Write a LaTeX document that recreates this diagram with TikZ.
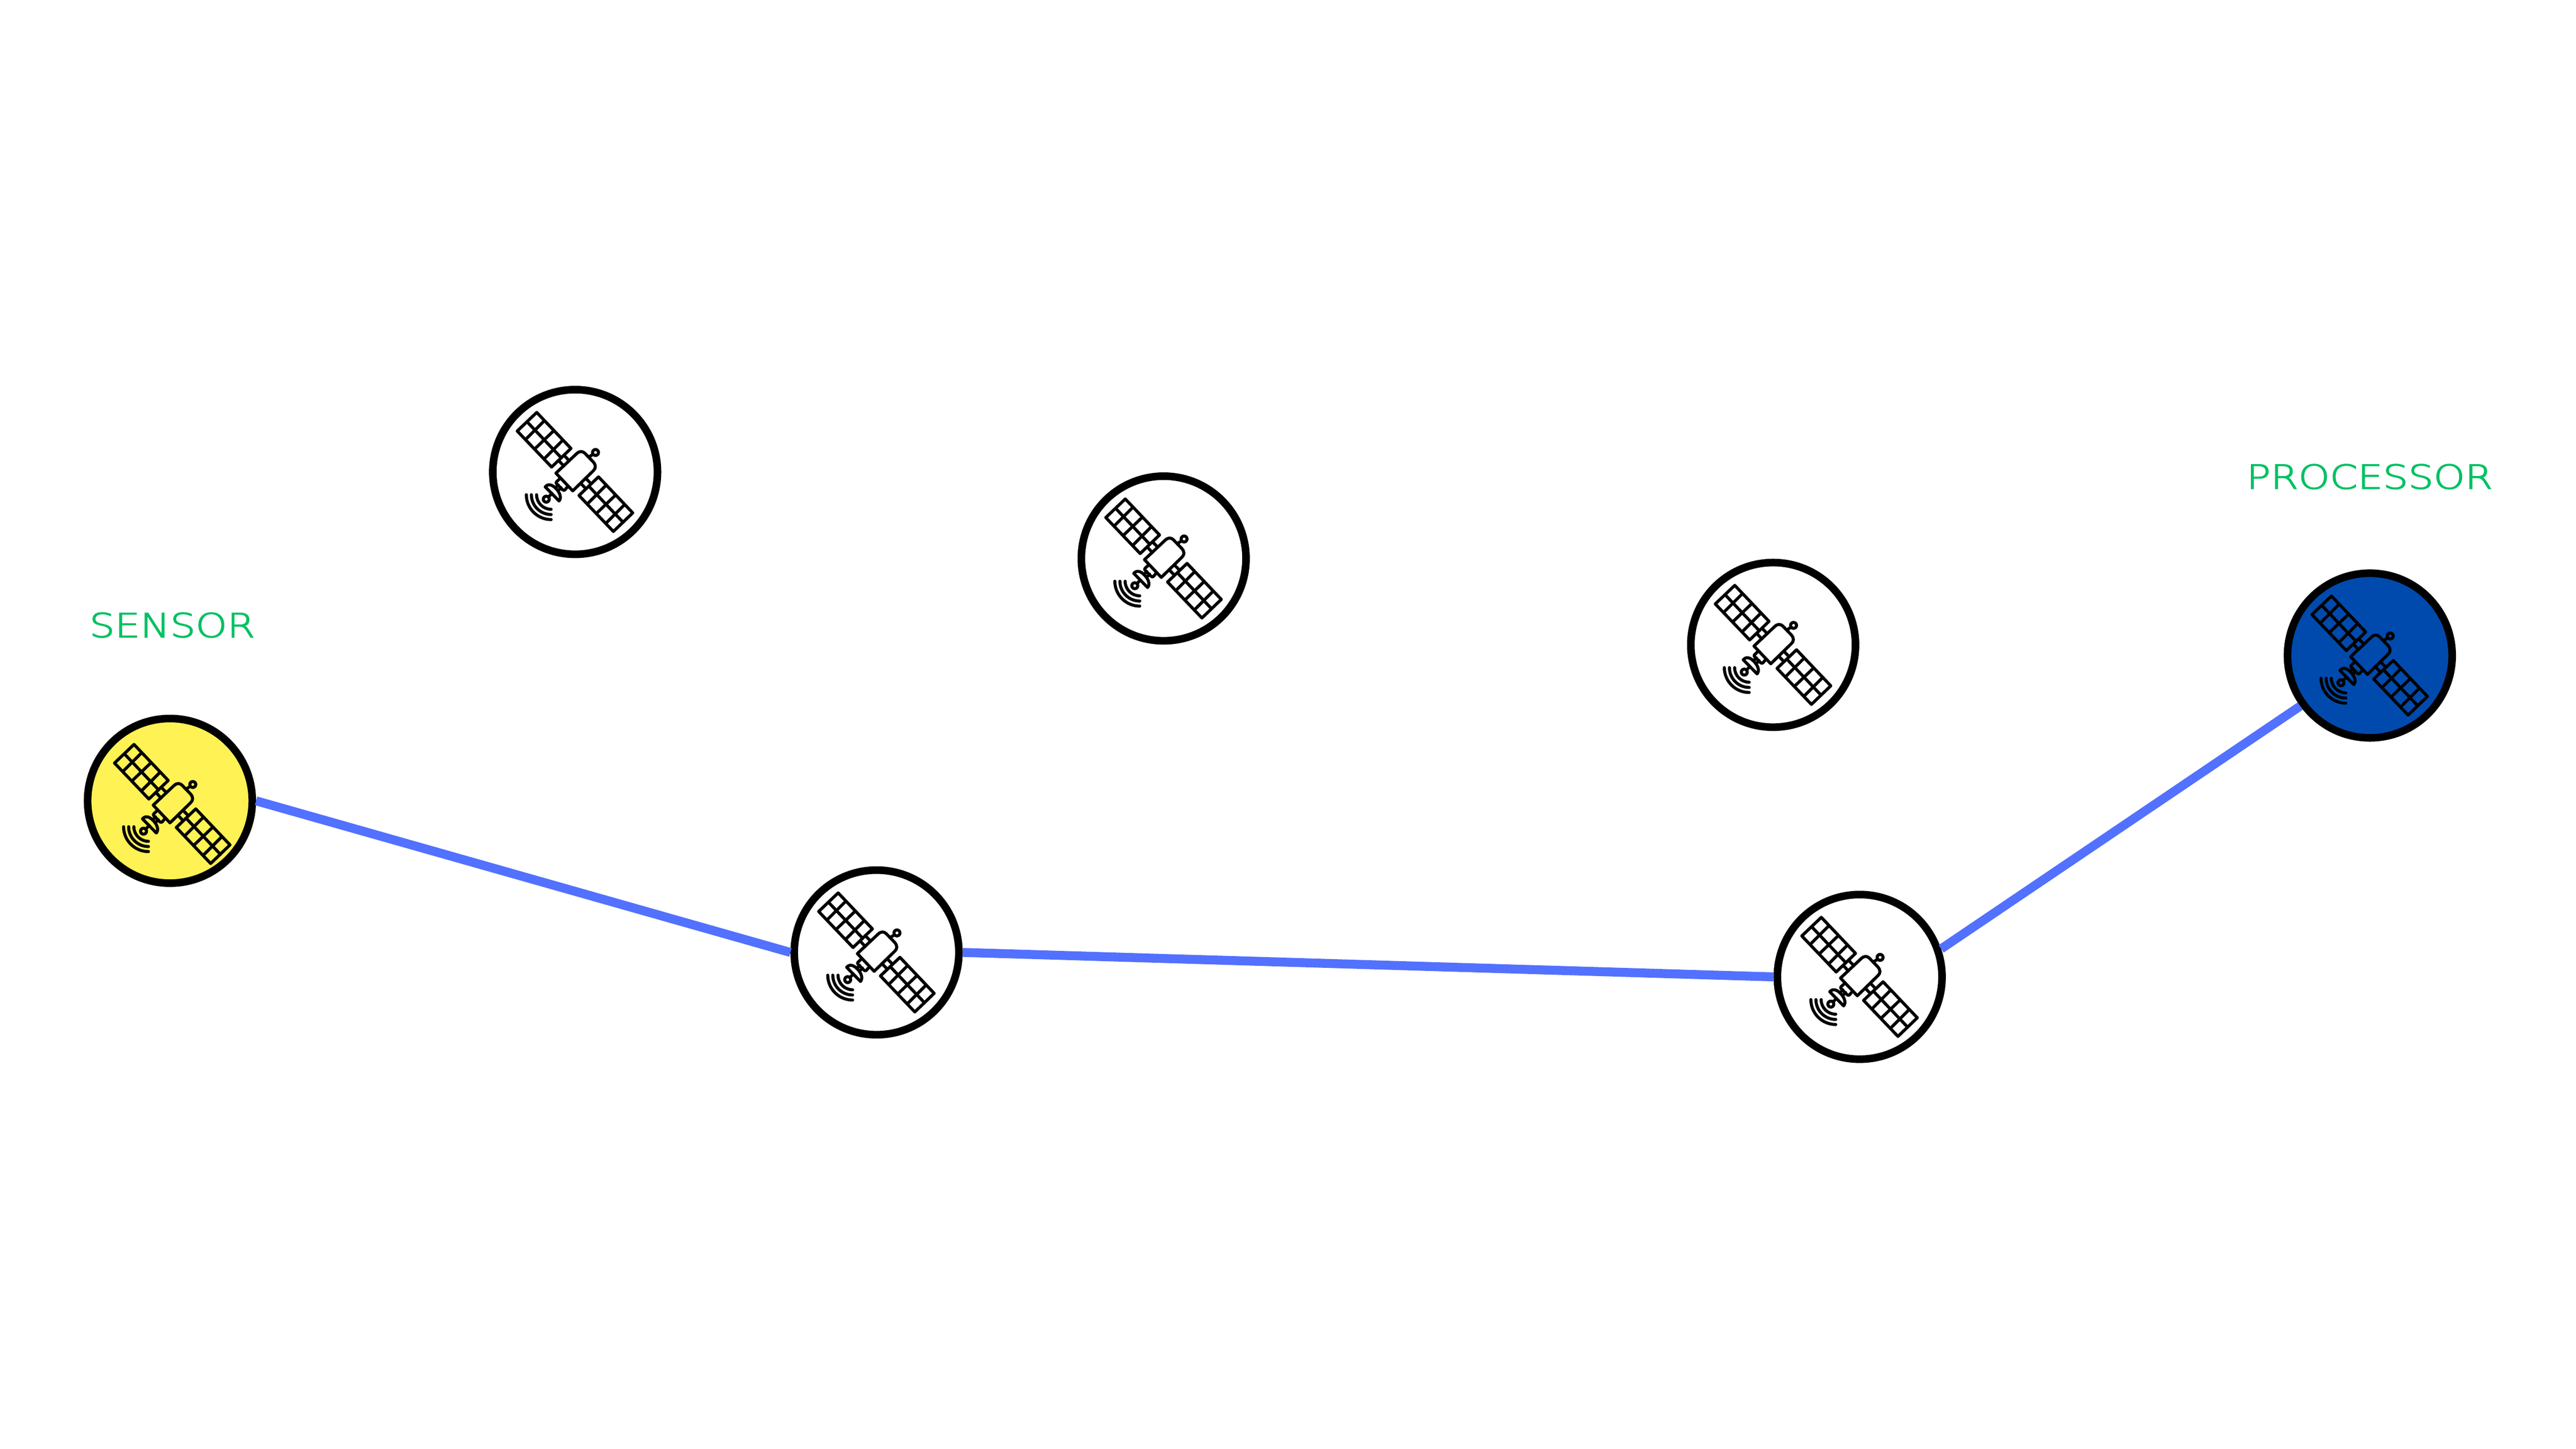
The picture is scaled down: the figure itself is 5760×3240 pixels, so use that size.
\documentclass[tikz,border=0pt]{standalone}
\usepackage{fontspec}
\usepackage{graphicx}
\newfontfamily\lab[FakeBold=2.4]{DejaVu Sans ExtraLight}
\definecolor{linkblue}{HTML}{5271FF}
\definecolor{sensorfill}{HTML}{FFF254}
\definecolor{procfill}{HTML}{004AAD}
\definecolor{labgreen}{HTML}{00C163}
\tikzset{
  sat node/.style={circle,draw=black,line width=0.17cm,minimum size=3.68cm,inner sep=0pt,fill=white},
  link/.style={draw=linkblue,line width=0.2cm},
  lbl/.style={text=labgreen,inner sep=0pt,anchor=center},
  sat/.pic={
    \begin{scope}[shift={(-646,-625)},line width=0.068cm,line cap=round,line join=round]
      \foreach \dx/\dy in {0/0,415/433}{
        \begin{scope}[shift={(\dx,\dy)}]
          \draw (388,225) -- (618,467) -- (488,592) -- (257,350) -- cycle;
          \draw (325,290) -- (553,530);
          \draw (315,405) -- (435,285);
          \draw (380,465) -- (500,350);
          \draw (445,530) -- (560,415);
        \end{scope}
      }
      \draw (538,551) -- (570,585);
      \draw (572,514) -- (606,549);
      \draw (683,701) -- (718,737);
      \draw (717,667) -- (752,703);
      \draw (517,633) -- (655,503) .. controls (675,483) and (695,484) .. (710,498) -- (768,558) .. controls (787,580) and (785,600) .. (770,615) -- (630,752) -- cycle;
      \draw (783,494) circle[radius=20];
      \draw (737,525) -- (764,508);
      \draw (538,675) -- (522,690) .. controls (516,696) and (516,700) .. (522,705) -- (562,745) .. controls (568,750) and (572,750) .. (578,745) -- (592,728);
      \draw (533,712) -- (513,733);
      \draw (551,730) -- (531,752);
      \draw (445,725) .. controls (470,695) and (505,720) .. (525,745) .. controls (545,770) and (555,800) .. (538,820) -- cycle;
      \draw (490,770) -- (467,793);
      \draw (452,808) circle[radius=20];
      \foreach \r in {98,133,167}{
        \draw (485-\r,778) arc[start angle=180,end angle=90,radius=\r];
      }
    \end{scope}
  }
}
\begin{document}
\begin{tikzpicture}[x=0.01cm,y=-0.01cm]
  \useasboundingbox[fill=white] (0,0) rectangle (5760,3240);
  \node[sat node,fill=sensorfill] (sensor) at (380,1791) {};
  \node[sat node] (s1) at (1286,1055.5) {};
  \node[sat node] (s2) at (2602,1249) {};
  \node[sat node] (s3) at (3964.8,1442.2) {};
  \node[sat node,fill=procfill] (proc) at (5299,1466) {};
  \node[sat node] (r1) at (1960,2130) {};
  \node[sat node] (r2) at (4158.3,2184.7) {};
  \coordinate (sensoricon) at (385.5,1798);
  \draw[link] (sensor.0) -- (r1.180);
  \draw[link] (r1.0) -- (r2.180);
  \draw[link] (r2.19.4) -- (proc.216);
  \foreach \n in {sensoricon,s1,s2,s3,proc,r1,r2}{
    \pic[x=0.0033333cm,y=-0.0033333cm] at (\n) {sat};
  }
  \node[lbl] (sensorlabel) at (385,1398) {\resizebox{3.7cm}{0.55cm}{\lab SENSOR}};
  \node[lbl] (proclabel) at (5298.5,1066) {\resizebox{5.5cm}{0.55cm}{\lab PROCESSOR}};
\end{tikzpicture}
\end{document}
